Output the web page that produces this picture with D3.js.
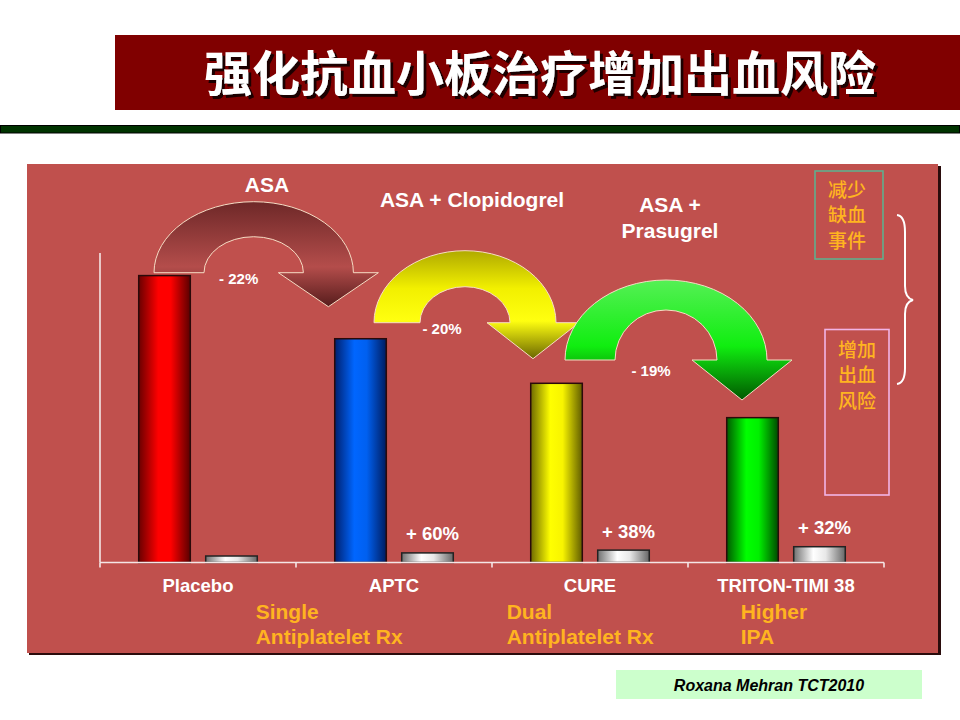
<!DOCTYPE html>
<html lang="zh">
<head>
<meta charset="UTF-8">
<title>强化抗血小板治疗增加出血风险</title>
<script src="https://d3js.org/d3.v7.min.js"></script>
<style>
  body { margin: 0; padding: 0; background: #fff; }
  svg { display: block; }
  text { font-family: "Liberation Sans", Arial, sans-serif; }
  .cjk { font-family: "Noto Sans CJK SC", sans-serif; }
</style>
</head>
<body>
<div id="chart"></div>
<script>
  // Data (relative event rates, arbitrary units)
  const categories = ["Placebo", "APTC", "CURE", "TRITON-TIMI 38"];
  const series = ["ischemic", "bleeding"];
  const ischemic = [9.27, 7.23, 5.79, 4.68];
  const bleeding = [0.21, 0.31, 0.40, 0.51];
  const reductionLabels = ["- 22%", "- 20%", "- 19%"];
  const bleedingLabels = ["", "+ 60%", "+ 38%", "+ 32%"];
  const regimenLabels = [["ASA"], ["ASA + Clopidogrel"], ["ASA +", "Prasugrel"]];
  const therapyLabels = [["Single", "Antiplatelet Rx"], ["Dual", "Antiplatelet Rx"], ["Higher", "IPA"]];
  const sideLabels = [["减少", "缺血", "事件"], ["增加", "出血", "风险"]];
  const title = "强化抗血小板治疗增加出血风险";
  const source = "Roxana Mehran TCT2010";

  const width = 960, height = 720;
  const orange = "#ffb420";

  const svg = d3.select("#chart").append("svg")
    .attr("width", width)
    .attr("height", height);

  const defs = svg.append("defs");

  // drop shadow for the title
  defs.append("filter").attr("id", "shadow")
    .attr("x", "-5%").attr("y", "-20%").attr("width", "115%").attr("height", "150%")
    .append("feDropShadow")
    .attr("dx", 3).attr("dy", 3).attr("stdDeviation", 0.6)
    .attr("flood-color", "#1a0000").attr("flood-opacity", 1);

  // cylinder-like gradients for the bars
  const barColors = {
    red:    ["#6a0000", "#ff0000", "#ff0000", "#5a0000"],
    blue:   ["#00206e", "#0066ff", "#0060f0", "#001c60"],
    yellow: ["#6e6a00", "#ffff00", "#f8f400", "#605c00"],
    green:  ["#005a00", "#00ff00", "#00f000", "#004a00"],
    gray:   ["#707070", "#ffffff", "#e8e8e8", "#666666"]
  };
  Object.entries(barColors).forEach(([k, c]) => {
    const g = defs.append("linearGradient").attr("id", "bar-" + k)
      .attr("x1", 0).attr("x2", 1).attr("y1", 0).attr("y2", 0);
    [0, 0.38, 0.62, 1].forEach((o, i) => g.append("stop").attr("offset", o).attr("stop-color", c[i]));
  });

  const arrowColors = [
    [[0, "#6e2828"], [0.62, "#b44d4b"], [1, "#561c1c"]],
    [[0, "#b0aa00"], [0.35, "#f2f000"], [0.65, "#ffff10"], [1, "#6a6600"]],
    [[0, "#55f055"], [0.55, "#10ee10"], [1, "#005800"]]
  ];
  arrowColors.forEach((stops, i) => {
    const g = defs.append("linearGradient").attr("id", "arrow-" + i)
      .attr("x1", 0).attr("x2", 0).attr("y1", 0).attr("y2", 1);
    stops.forEach(s => g.append("stop").attr("offset", s[0]).attr("stop-color", s[1]));
  });

  // ---- title bar ----
  svg.append("rect").attr("x", 115).attr("y", 35).attr("width", 845).attr("height", 75)
    .attr("fill", "#800000");
  svg.append("text").attr("class", "cjk")
    .attr("x", 540).attr("y", 70)
    .attr("dominant-baseline", "central").attr("text-anchor", "middle")
    .attr("font-size", 48).attr("font-weight", 700)
    .attr("fill", "#ffffff").attr("filter", "url(#shadow)")
    .text(title);

  svg.append("rect").attr("x", 0.5).attr("y", 125.5).attr("width", 959).attr("height", 7.5)
    .attr("fill", "#003300").attr("stroke", "#000").attr("stroke-width", 1);

  // ---- panel ----
  svg.append("rect").attr("x", 29).attr("y", 166).attr("width", 912).attr("height", 489)
    .attr("fill", "#2a0c0c");
  svg.append("rect").attr("x", 27).attr("y", 164).attr("width", 911).attr("height", 489)
    .attr("fill", "#c0504d");

  // ---- scales ----
  const x = d3.scaleBand().domain(categories).range([100, 884]);
  const xs = d3.scaleBand().domain(series).range([0, x.bandwidth()])
    .paddingInner(0.23).paddingOuter(0.578);
  const y = d3.scaleLinear().domain([0, 10]).range([562.5, 253]);

  const fills = ["red", "blue", "yellow", "green"];

  const groups = svg.append("g").selectAll("g")
    .data(categories)
    .join("g")
    .attr("transform", d => `translate(${x(d)},0)`);

  groups.append("rect")
    .attr("x", xs("ischemic"))
    .attr("y", (d, i) => y(ischemic[i]))
    .attr("width", xs.bandwidth())
    .attr("height", (d, i) => y(0) - y(ischemic[i]))
    .attr("fill", (d, i) => `url(#bar-${fills[i]})`)
    .attr("stroke", "#2a0a0a").attr("stroke-width", 1.5);

  groups.append("rect")
    .attr("x", xs("bleeding"))
    .attr("y", (d, i) => y(bleeding[i]))
    .attr("width", xs.bandwidth())
    .attr("height", (d, i) => y(0) - y(bleeding[i]))
    .attr("fill", "url(#bar-gray)")
    .attr("stroke", "#222").attr("stroke-width", 1.5);

  groups.append("text")
    .attr("x", xs("bleeding") + xs.bandwidth() / 2 + 5)
    .attr("y", (d, i) => y(bleeding[i]) - 19)
    .attr("dominant-baseline", "central")
    .attr("text-anchor", "middle")
    .attr("fill", "#fff").attr("font-size", 18.5).attr("font-weight", 700)
    .text((d, i) => bleedingLabels[i]);

  // ---- axes ----
  const axisG = svg.append("g").attr("stroke", "#f4e6e6").attr("stroke-width", 1.6).attr("fill", "none");
  axisG.append("line").attr("x1", x.range()[0]).attr("x2", x.range()[0])
    .attr("y1", y(10)).attr("y2", y(0));
  axisG.append("line").attr("x1", x.range()[0]).attr("x2", x.range()[1])
    .attr("y1", y(0)).attr("y2", y(0));
  const tickPos = categories.map(c => x(c)).concat([x.range()[1]]);
  axisG.selectAll(".tick").data(tickPos).join("line")
    .attr("x1", d => d).attr("x2", d => d)
    .attr("y1", y(0)).attr("y2", y(0) + 5);

  svg.append("g").selectAll("text").data(categories).join("text")
    .attr("x", d => x(d) + x.bandwidth() / 2)
    .attr("y", 585)
    .attr("dominant-baseline", "central")
    .attr("text-anchor", "middle")
    .attr("fill", "#fff").attr("font-size", 18.5).attr("font-weight", 700)
    .text(d => d);

  // ---- curved arrows between regimens ----
  const arrowSpecs = [
    { cx: 253.7, by: 272.7, rxo: 99.7, ryo: 71, rxi: 49.7, ryi: 36, hh: 50, hd: 34, lx: -15, ly: 6,
      tx: 267, ty: 184 },
    { cx: 465, by: 322.7, rxo: 91, ryo: 72, rxi: 45, ryi: 36, hh: 46, hd: 36, lx: -23, ly: 6,
      tx: 472, ty: 199.3 },
    { cx: 666, by: 360, rxo: 101, ryo: 80, rxi: 51, ryi: 50, hh: 50, hd: 40, lx: -15, ly: 10,
      tx: 670, ty: 204.3 }
  ];

  function arrowPath(a) {
    const hc = a.cx + (a.rxo + a.rxi) / 2;
    return `M${a.cx - a.rxo},${a.by}` +
      `A${a.rxo},${a.ryo} 0 0 1 ${a.cx + a.rxo},${a.by}` +
      `L${hc + a.hh},${a.by}L${hc},${a.by + a.hd}L${hc - a.hh},${a.by}` +
      `L${a.cx + a.rxi},${a.by}` +
      `A${a.rxi},${a.ryi} 0 0 0 ${a.cx - a.rxi},${a.by}Z`;
  }

  svg.append("g").selectAll("path").data(arrowSpecs).join("path")
    .attr("d", arrowPath)
    .attr("fill", (d, i) => `url(#arrow-${i})`)
    .attr("stroke", "#f6dcc4").attr("stroke-width", 1);

  svg.append("g").selectAll("text").data(arrowSpecs).join("text")
    .attr("x", d => d.cx + d.lx)
    .attr("y", d => d.by + d.ly)
    .attr("dominant-baseline", "central")
    .attr("text-anchor", "middle")
    .attr("fill", "#fff").attr("font-size", 15).attr("font-weight", 700)
    .text((d, i) => reductionLabels[i]);

  const regG = svg.append("g").selectAll("text").data(arrowSpecs).join("text")
    .attr("text-anchor", "middle")
    .attr("fill", "#fff").attr("font-size", 21).attr("font-weight", 700);
  regG.selectAll("tspan").data((d, i) => regimenLabels[i].map(t => ({ t, a: d })))
    .join("tspan")
    .attr("x", d => d.a.tx)
    .attr("y", (d, j) => d.a.ty + j * 26)
    .attr("dominant-baseline", "central")
    .text(d => d.t);

  // ---- therapy class labels ----
  const therapyX = [255.7, 506.7, 740.7];
  const thG = svg.append("g").selectAll("text").data(therapyLabels).join("text")
    .attr("fill", orange).attr("font-size", 21).attr("font-weight", 700);
  thG.selectAll("tspan").data((d, i) => d.map(t => ({ t, i })))
    .join("tspan")
    .attr("x", d => therapyX[d.i])
    .attr("y", (d, j) => 611.7 + j * 25)
    .attr("dominant-baseline", "central")
    .text(d => d.t);

  // ---- side boxes and brace ----
  const boxes = [
    { x: 815, y: 171, w: 68, h: 88, stroke: "#5fae8e", cx: 847, ty: 188.3 },
    { x: 825, y: 329.5, w: 64, h: 165.5, stroke: "#f2b4e6", cx: 857, ty: 348.3 }
  ];
  svg.append("g").selectAll("rect").data(boxes).join("rect")
    .attr("x", d => d.x).attr("y", d => d.y).attr("width", d => d.w).attr("height", d => d.h)
    .attr("fill", "none").attr("stroke", d => d.stroke).attr("stroke-width", 1.6);
  const sideG = svg.append("g").selectAll("text").data(boxes).join("text")
    .attr("class", "cjk").attr("text-anchor", "middle")
    .attr("fill", orange).attr("font-size", 19).attr("font-weight", 500);
  sideG.selectAll("tspan").data((d, i) => sideLabels[i].map(t => ({ t, b: d })))
    .join("tspan")
    .attr("x", d => d.b.cx)
    .attr("y", (d, j) => d.b.ty + j * 25.5)
    .attr("dominant-baseline", "central")
    .text(d => d.t);

  svg.append("path")
    .attr("d", "M897,215 Q905,216 905,232 L905,286 Q905,298 913,300 Q905,302 905,314 L905,368 Q905,383 897,384")
    .attr("fill", "none").attr("stroke", "#fff").attr("stroke-width", 2);

  // ---- source ----
  svg.append("rect").attr("x", 616).attr("y", 670).attr("width", 306).attr("height", 29)
    .attr("fill", "#ccffcc");
  svg.append("text").attr("x", 769).attr("y", 685)
    .attr("dominant-baseline", "central").attr("text-anchor", "middle")
    .attr("font-size", 16).attr("font-weight", 700).attr("font-style", "italic")
    .attr("fill", "#000").text(source);
</script>
</body>
</html>
